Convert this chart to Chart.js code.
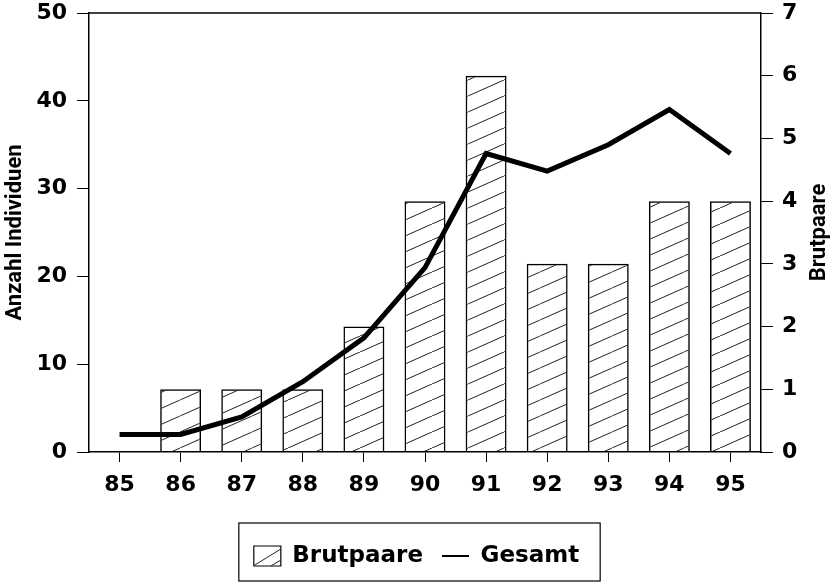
<!DOCTYPE html>
<html lang="de">
<head>
<meta charset="UTF-8">
<title>Brutpaare und Gesamt 1985-1995</title>
<style>
  body { margin: 0; background: #fff; }
</style>
</head>
<body>
<canvas id="chart" width="833" height="584"></canvas>
<script src="https://cdn.jsdelivr.net/npm/chart.js"></script>
<script>
// Daten
const jahre = ['85', '86', '87', '88', '89', '90', '91', '92', '93', '94', '95'];
const brutpaare = [0, 1, 1, 1, 2, 4, 6, 3, 3, 4, 4];
const gesamt = [2, 2, 4, 8, 13, 21, 34, 32, 35, 39, 34];

const tickFont = { family: 'DejaVu Sans', size: 22, weight: 'bold' };
// kleine lineHeight, damit die achsenbeschriftung oben keinen extra rand erzwingt
const yTickFont = { family: 'DejaVu Sans', size: 22, weight: 'bold', lineHeight: 0.2 };
const titleFont = { family: 'Roboto', size: 22, weight: 'bold' };

// schraffur fuer die balken
function schraffur() {
    const c = document.createElement('canvas');
    c.width = 36;
    c.height = 16;
    const g = c.getContext('2d');
    g.strokeStyle = '#222';
    g.lineWidth = 1;
    g.beginPath();
    g.moveTo(-36, 32);
    g.lineTo(72, -16);
    g.stroke();
    return g.createPattern(c, 'repeat');
}
const muster = schraffur();

// oberer rahmen, rechter achsentitel (von unten nach oben), legendenschraffur + kasten
const rahmen = {
    id: 'rahmen',
    afterDraw(chart) {
        const { ctx, chartArea: a, legend } = chart;
        ctx.save();
        ctx.strokeStyle = '#000';
        ctx.lineWidth = 1.5;
        ctx.beginPath();
        ctx.moveTo(a.left, a.top);
        ctx.lineTo(a.right, a.top);
        ctx.stroke();

        ctx.save();
        ctx.translate(819, (a.top + a.bottom) / 2);
        ctx.rotate(-Math.PI / 2);
        ctx.font = 'bold 22px Roboto';
        ctx.fillStyle = '#000';
        ctx.textAlign = 'center';
        ctx.textBaseline = 'middle';
        ctx.fillText('Brutpaare', 0, 0);
        ctx.restore();

        const boxes = legend.legendHitBoxes;
        const cy = boxes[0].top + boxes[0].height / 2;

        // diagonale im legendenkaestchen
        const bx = boxes[0].left;
        ctx.lineWidth = 1;
        ctx.strokeStyle = '#222';
        ctx.beginPath();
        ctx.moveTo(bx + 1, cy + 9);
        ctx.lineTo(bx + 27, cy - 7);
        ctx.moveTo(bx + 17, cy + 10);
        ctx.lineTo(bx + 27, cy + 4);
        ctx.stroke();

        const l = Math.min(...boxes.map(b => b.left)) - 15;
        const r = Math.max(...boxes.map(b => b.left + b.width)) + 21;
        ctx.strokeStyle = '#000';
        ctx.lineWidth = 1.2;
        ctx.strokeRect(l, cy - 33, r - l, 58);
        ctx.restore();
    }
};

new Chart(document.getElementById('chart'), {
    type: 'bar',
    data: {
        labels: jahre,
        datasets: [
            {
                type: 'bar',
                label: 'Brutpaare',
                data: brutpaare,
                yAxisID: 'y1',
                backgroundColor: muster,
                borderColor: '#000',
                borderWidth: 1.5,
                barPercentage: 0.67,
                categoryPercentage: 1,
                order: 1
            },
            {
                type: 'line',
                label: 'Gesamt',
                data: gesamt,
                yAxisID: 'y',
                borderColor: '#000',
                borderWidth: 5,
                pointRadius: 0,
                fill: false,
                tension: 0,
                borderJoinStyle: 'miter',
                borderCapStyle: 'butt',
                order: 0
            }
        ]
    },
    options: {
        responsive: false,
        animation: false,
        layout: { padding: { top: 13, bottom: 6.5, left: 0, right: 0 } },
        plugins: {
            tooltip: { enabled: false },
            legend: {
                position: 'bottom',
                labels: {
                    font: { family: 'DejaVu Sans', size: 23, weight: 'bold' },
                    color: '#000',
                    padding: 19,
                    usePointStyle: true,
                    pointStyleWidth: 27,
                    boxHeight: 20,
                    generateLabels: chart => chart.data.datasets.map((ds, i) => ({
                        text: ds.label,
                        fillStyle: 'rgba(0,0,0,0)',
                        strokeStyle: '#000',
                        lineWidth: i === 0 ? 1.2 : 2,
                        pointStyle: i === 0 ? 'rect' : 'line',
                        fontColor: '#000',
                        hidden: false,
                        datasetIndex: i
                    }))
                }
            }
        },
        scales: {
            x: {
                grid: { drawOnChartArea: false, offset: false, tickLength: 10, color: '#000', lineWidth: 1 },
                border: { color: '#000', width: 1.5 },
                ticks: { font: tickFont, color: '#000', padding: 10, maxRotation: 0 },
                afterFit(s) { s.height = 73.5; }
            },
            y: {
                position: 'left',
                min: 0,
                max: 50,
                ticks: { stepSize: 10, font: yTickFont, color: '#000', padding: 10 },
                grid: { drawOnChartArea: false, tickLength: 12, color: '#000', lineWidth: 1 },
                border: { color: '#000', width: 1.5 },
                title: { display: true, text: 'Anzahl Individuen', font: titleFont, color: '#000', padding: { top: 2, bottom: 0 } },
                afterFit(s) { s.width = 89; }
            },
            y1: {
                position: 'right',
                min: 0,
                max: 7,
                ticks: { stepSize: 1, font: yTickFont, color: '#000', padding: 9 },
                grid: { drawOnChartArea: false, tickLength: 12, color: '#000', lineWidth: 1 },
                border: { color: '#000', width: 1.5 },
                afterFit(s) { s.width = 72; }
            }
        }
    },
    plugins: [rahmen]
});
</script>
</body>
</html>
